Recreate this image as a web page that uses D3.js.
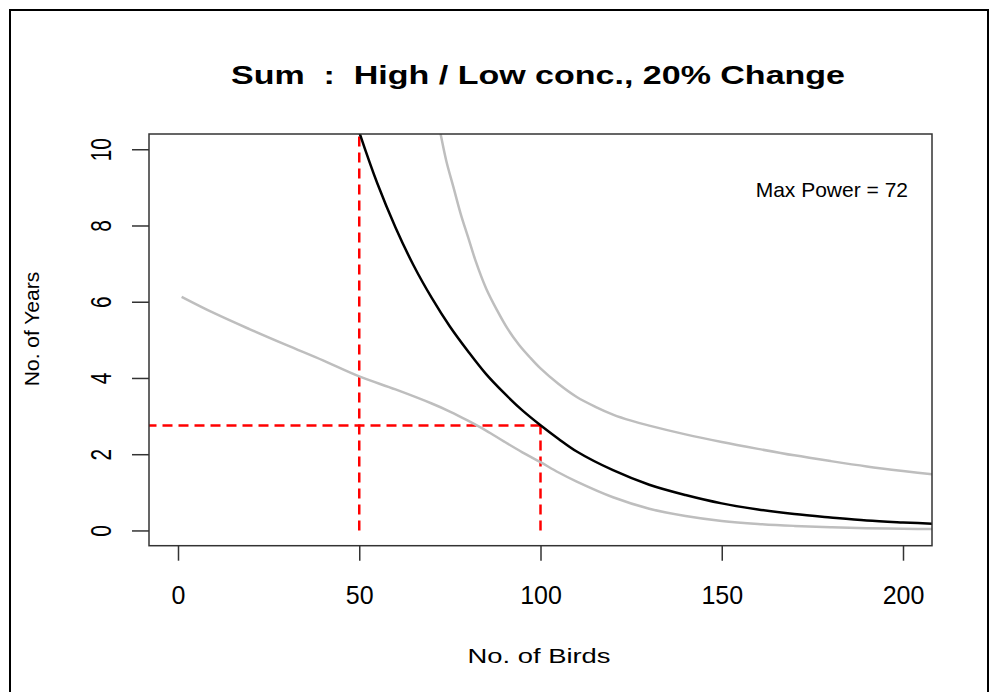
<!DOCTYPE html>
<html>
<head>
<meta charset="utf-8">
<script src="https://cdn.jsdelivr.net/npm/d3@7"></script>
<style>
  body { margin: 0; background: #fff; }
  text { font-family: Arial, "Liberation Sans", sans-serif; }
</style>
</head>
<body>
<div id="chart"></div>
<script>
// values
const xTicks = [0, 50, 100, 150, 200];
const yTicks = [0, 2, 4, 6, 8, 10];

// central estimate (black)
const birdsMid = [49, 50, 55, 60, 65, 70, 75, 80, 85, 90, 95, 100, 105, 110, 120, 130, 140, 150, 160, 170, 180, 190, 200, 210];
const yearsMid = [10.75, 10.45, 9.1, 7.95, 6.95, 6.1, 5.35, 4.7, 4.1, 3.6, 3.15, 2.76, 2.4, 2.07, 1.58, 1.2, 0.93, 0.71, 0.55, 0.43, 0.34, 0.26, 0.21, 0.17];

// upper bound (grey)
const birdsHigh = [71.5, 72, 74, 76, 78, 80, 82, 85, 88, 91, 94, 97, 100, 105, 110, 115, 120, 125, 130, 140, 150, 160, 170, 180, 190, 200, 210];
const yearsHigh = [10.8, 10.6, 9.7, 9.0, 8.3, 7.7, 7.1, 6.35, 5.78, 5.28, 4.88, 4.55, 4.25, 3.84, 3.5, 3.25, 3.04, 2.88, 2.75, 2.52, 2.32, 2.14, 1.97, 1.82, 1.68, 1.56, 1.45];

// lower bound (grey)
const birdsLow = [1, 10, 20, 30, 40, 50, 60, 70, 75, 80, 85, 90, 95, 100, 105, 110, 120, 130, 140, 150, 160, 170, 180, 190, 200, 210];
const yearsLow = [6.13, 5.7, 5.27, 4.86, 4.46, 4.04, 3.7, 3.33, 3.12, 2.88, 2.62, 2.33, 2.05, 1.79, 1.52, 1.28, 0.87, 0.57, 0.38, 0.25, 0.17, 0.12, 0.085, 0.06, 0.045, 0.035];

// red reference lines
const refBirds = [50, 100];
const refYears = 2.75;

const titleText = "Sum  :  High / Low conc., 20% Change";
const powerText = "Max Power = 72";

const width = 990, height = 692;
const box = { left: 149, right: 932, top: 134, bottom: 545.7 };

const svg = d3.select('#chart').append('svg')
  .attr('width', width)
  .attr('height', height);

// outer frame
svg.append('rect')
  .attr('x', 10).attr('y', 10)
  .attr('width', 978).attr('height', 700)
  .attr('fill', 'none')
  .attr('stroke', '#000')
  .attr('stroke-width', 2);

const x = d3.scaleLinear().domain([-8, 208]).range([box.left, box.right]);
const y = d3.scaleLinear().domain([-0.4, 10.4]).range([box.bottom, box.top]);

svg.append('clipPath').attr('id', 'clip')
  .append('rect')
  .attr('x', box.left).attr('y', box.top)
  .attr('width', box.right - box.left).attr('height', box.bottom - box.top);

const plot = svg.append('g').attr('clip-path', 'url(#clip)');

const line = d3.line()
  .x(d => x(d[0]))
  .y(d => y(d[1]))
  .curve(d3.curveCatmullRom.alpha(0.5));

// red dashed guides
const red = plot.append('g')
  .attr('stroke', '#ff0000')
  .attr('stroke-width', 2.5)
  .attr('stroke-dasharray', '10,6')
  .attr('fill', 'none');
red.append('line')
  .attr('x1', x(refBirds[0])).attr('x2', x(refBirds[0]))
  .attr('y1', y(0)).attr('y2', y(10.4));
red.append('line')
  .attr('x1', x(refBirds[1])).attr('x2', x(refBirds[1]))
  .attr('y1', y(0)).attr('y2', y(refYears));
red.append('line')
  .attr('x1', x(refBirds[1])).attr('x2', x(-8))
  .attr('y1', y(refYears)).attr('y2', y(refYears));

const series = [
  { xs: birdsHigh, ys: yearsHigh, color: '#bebebe' },
  { xs: birdsLow, ys: yearsLow, color: '#bebebe' },
  { xs: birdsMid, ys: yearsMid, color: '#000000' }
];

series.forEach(s => {
  plot.append('path')
    .datum(s.xs.map((b, i) => [b, s.ys[i]]))
    .attr('d', line)
    .attr('fill', 'none')
    .attr('stroke', s.color)
    .attr('stroke-width', 2.5);
});

// plot box
svg.append('rect')
  .attr('x', box.left).attr('y', box.top)
  .attr('width', box.right - box.left).attr('height', box.bottom - box.top)
  .attr('fill', 'none')
  .attr('stroke', '#333')
  .attr('stroke-width', 1.5);

// x axis
const xAxisGroup = svg.append('g')
  .attr('transform', `translate(0,${box.bottom})`)
  .call(d3.axisBottom(x).tickValues(xTicks).tickSize(15).tickFormat(d3.format('d')));
xAxisGroup.select('.domain').remove();
xAxisGroup.selectAll('line').attr('stroke', '#333').attr('stroke-width', 1.5);
xAxisGroup.selectAll('text')
  .attr('y', 58.3).attr('dy', null)
  .attr('fill', '#000')
  .style('font-size', '25px')
  .style('font-family', 'Arial, "Liberation Sans", sans-serif');

// y axis
const yAxisGroup = svg.append('g')
  .attr('transform', `translate(${box.left},0)`)
  .call(d3.axisLeft(y).tickValues(yTicks).tickSize(17).tickFormat(d3.format('d')));
yAxisGroup.select('.domain').remove();
yAxisGroup.selectAll('line').attr('stroke', '#333').attr('stroke-width', 1.5);
yAxisGroup.selectAll('text')
  .attr('x', null).attr('dy', null)
  .attr('text-anchor', 'middle')
  .attr('transform', 'translate(-38,0) rotate(-90) scale(0.72,1)')
  .attr('fill', '#000')
  .style('font-size', '29px')
  .style('font-family', 'Arial, "Liberation Sans", sans-serif');

// title
svg.append('text')
  .attr('x', 538).attr('y', 83.5)
  .attr('text-anchor', 'middle')
  .attr('textLength', 614)
  .attr('lengthAdjust', 'spacingAndGlyphs')
  .style('white-space', 'pre')
  .style('font-size', '26px')
  .style('font-weight', 'bold')
  .text(titleText);

// axis titles
svg.append('text')
  .attr('x', 539).attr('y', 663)
  .attr('text-anchor', 'middle')
  .attr('textLength', 143)
  .attr('lengthAdjust', 'spacingAndGlyphs')
  .style('font-size', '21px')
  .text('No. of Birds');

svg.append('text')
  .attr('transform', 'translate(38.5,329) rotate(-90)')
  .attr('text-anchor', 'middle')
  .style('font-size', '21px')
  .text('No. of Years');

// annotation
svg.append('text')
  .attr('x', 908).attr('y', 197)
  .attr('text-anchor', 'end')
  .style('font-size', '21px')
  .text(powerText);
</script>
</body>
</html>
